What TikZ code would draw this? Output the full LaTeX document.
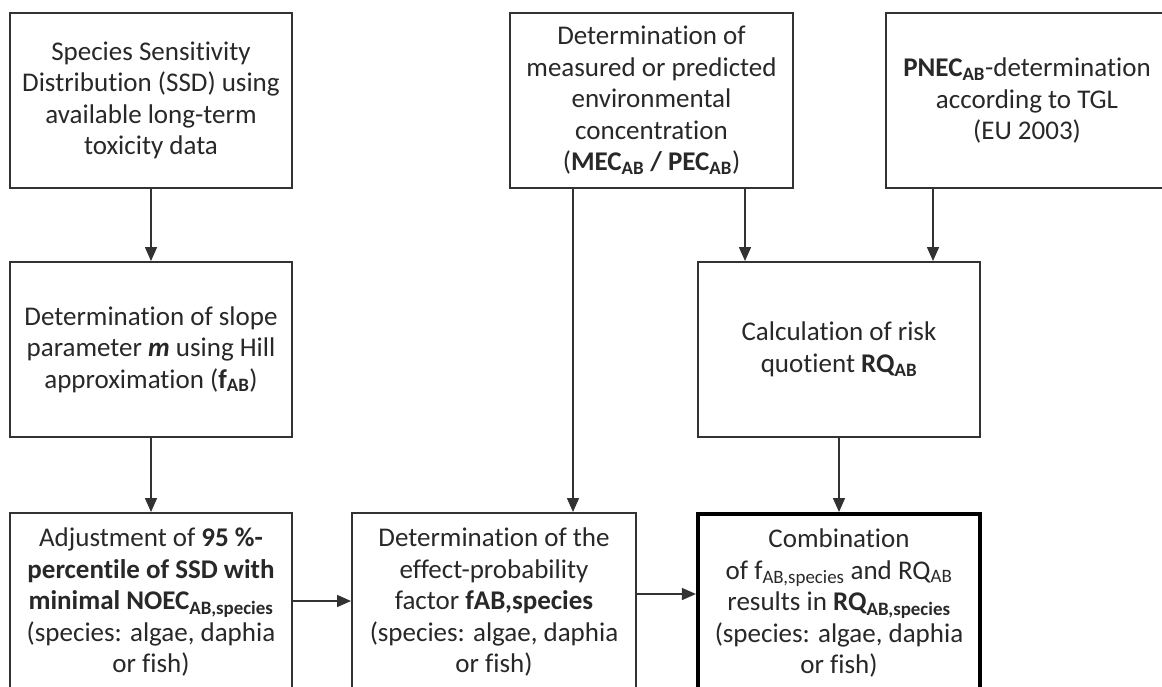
\documentclass[tikz,border=0pt]{standalone}
\usepackage{fontspec}
\setmainfont{Carlito}[RawFeature=-liga]
\usetikzlibrary{arrows.meta}
\definecolor{ink}{RGB}{40,40,40}
\definecolor{edge}{RGB}{50,50,50}
\newcommand{\sbs}[1]{\textsubscript{#1}}
\begin{document}
\begin{tikzpicture}[x=1pt,y=-1pt,
  box/.style={draw=edge,line width=2pt,fill=white,text=ink,align=center,
    minimum width=282pt,minimum height=175pt,inner sep=4pt,
    font=\fontsize{27}{31.5}\selectfont},
  lowbox/.style={box,minimum height=178pt,anchor=north},
  arr/.style={draw=edge,line width=1.6pt,-{Triangle[length=14pt,width=12pt]}}]
\useasboundingbox (0,0) rectangle (1162,686);
\clip (0,0) rectangle (1162,686);
\fill[white] (0,0) rectangle (1162,686);
% top row
\node[box] (b1) at (151,100.5) {Species Sensitivity\\Distribution (SSD) using\\available long-term\\toxicity data};
\node[box,minimum width=283pt] (b2) at (651.5,100.5) {Determination of\\measured or predicted\\environmental\\concentration\\(\textbf{MEC\sbs{AB} / PEC\sbs{AB}})};
\node[box] (b3) at (1027,100.5) {\textbf{PNEC\sbs{AB}}-determination\\according to TGL\\(EU 2003)};
% middle row
\node[box] (b4) at (151,349.5) {Determination of slope\\parameter \textbf{\textit{m}} using Hill\\approximation (\textbf{f\sbs{AB}})};
\node[box] (b5) at (839,349.5) {Calculation of risk\\quotient \textbf{RQ\sbs{AB}}};
% bottom row
\node[lowbox] (b6) at (151,512) {Adjustment of \textbf{95 \%-}\\\textbf{percentile of SSD with}\\\textbf{minimal NOEC\sbs{AB,species}}\\(species: algae, daphia\\or fish)};
\node[lowbox,minimum width=284pt] (b7) at (494,512) {Determination of the\\effect-probability\\factor \textbf{fAB,species}\\(species: algae, daphia\\or fish)};
\node[lowbox,draw=black,line width=4.2pt] (b8) at (839,512) {Combination\\of f\sbs{AB,species} and RQ\sbs{AB}\\results in \textbf{RQ\sbs{AB,species}}\\(species: algae, daphia\\or fish)};
% helper coordinates
\coordinate (c573) at (573,0);
\coordinate (c745) at (745,0);
\coordinate (c933) at (933,0);
\coordinate (r601) at (0,601);
\coordinate (r594) at (0,594);
% connectors
\draw[arr] (b1.south) -- (b4.north);
\draw[arr] (b4.south) -- (b6.north);
\draw[arr] (b2.south -| c573) -- (b7.north -| c573);
\draw[arr] (b2.south -| c745) -- (b5.north -| c745);
\draw[arr] (b3.south -| c933) -- (b5.north -| c933);
\draw[arr] (b5.south) -- (b8.north);
\draw[arr] (b6.east |- r601) -- (b7.west |- r601);
\draw[arr] (b7.east |- r594) -- (b8.west |- r594);
\end{tikzpicture}
\end{document}
